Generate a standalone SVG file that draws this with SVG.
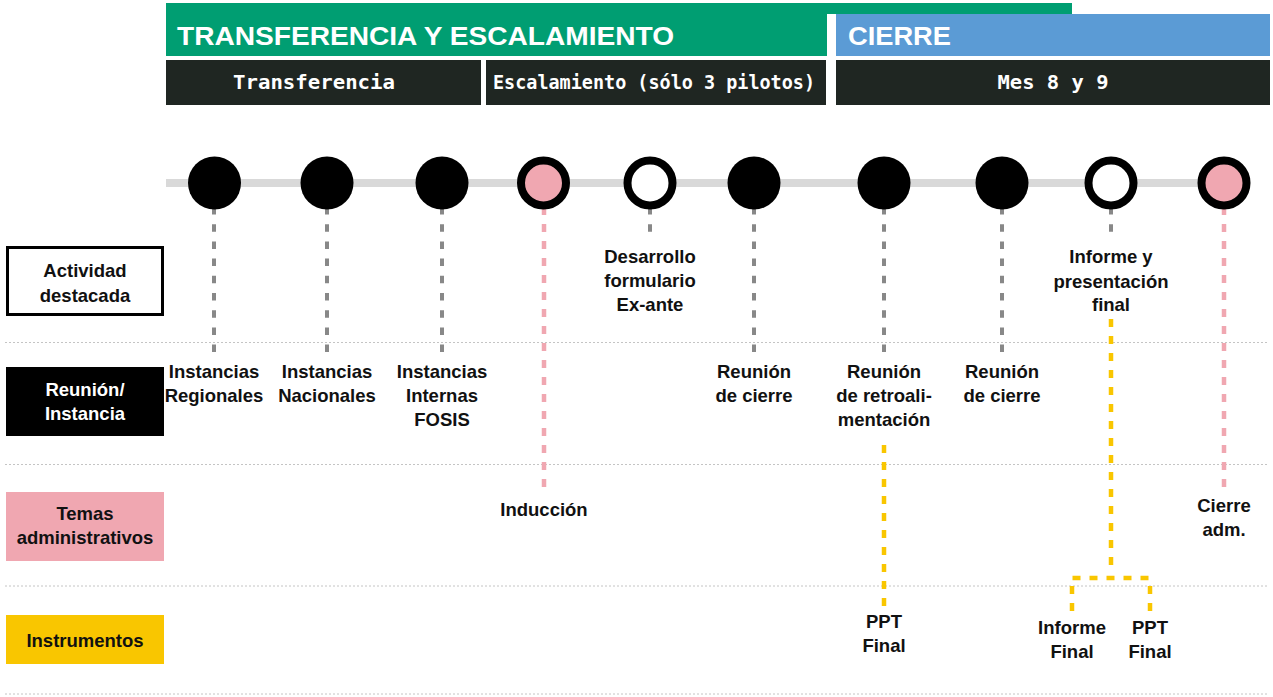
<svg xmlns="http://www.w3.org/2000/svg" width="1273" height="697" viewBox="0 0 1273 697">
<style>
.lbl{font-family:"Liberation Sans",Arial,sans-serif;font-weight:bold;font-size:18.5px;fill:#111;text-anchor:middle}
.lblw{font-family:"Liberation Sans",Arial,sans-serif;font-weight:bold;font-size:18.5px;fill:#fff;text-anchor:middle}
.mono{font-family:"DejaVu Sans Mono","Liberation Mono",monospace;font-weight:bold;font-size:19px;fill:#fff;text-anchor:middle}
.title{font-family:"Liberation Sans",Arial,sans-serif;font-weight:bold;font-size:26px;fill:#fff}
.sep{stroke:#c4c4c4;stroke-width:1;stroke-dasharray:2 2;fill:none}
.dg{stroke:#888;stroke-width:4;stroke-dasharray:7.5 9.7;fill:none}
.dp{stroke:#f0a7b1;stroke-width:4.5;stroke-dasharray:8 9;fill:none}
.dy{stroke:#f9c600;stroke-width:4.5;stroke-dasharray:8 9;fill:none}
.dot{fill:#000}
.ring{stroke:#000;stroke-width:8}
</style>

<g id="header">
  <path d="M166 3 H1072 V14 H827 V56 H166 Z" fill="#009e72"/>
  <rect x="836" y="14" width="434" height="42" fill="#5b9bd5"/>
  <text class="title" x="177" y="45" textLength="497" lengthAdjust="spacingAndGlyphs">TRANSFERENCIA Y ESCALAMIENTO</text>
  <text class="title" x="848" y="45" textLength="103" lengthAdjust="spacingAndGlyphs">CIERRE</text>
  <rect x="166" y="60" width="315" height="45" fill="#1f2622"/>
  <rect x="486" y="60" width="340" height="45" fill="#1f2622"/>
  <rect x="836" y="60" width="434" height="45" fill="#1f2622"/>
  <text class="mono" x="314" y="89" textLength="162" lengthAdjust="spacingAndGlyphs">Transferencia</text>
  <text class="mono" x="654" y="89" font-size="17" textLength="322" lengthAdjust="spacingAndGlyphs">Escalamiento (sólo 3 pilotos)</text>
  <text class="mono" x="1053" y="89" textLength="111" lengthAdjust="spacingAndGlyphs">Mes 8 y 9</text>
</g>

<g id="separators">
  <line class="sep" x1="5" y1="342.5" x2="1268" y2="342.5"/>
  <line class="sep" x1="5" y1="464.5" x2="1268" y2="464.5"/>
  <line class="sep" x1="5" y1="586" x2="1268" y2="586"/>
  <line class="sep" x1="5" y1="694" x2="1268" y2="694"/>
</g>

<g id="legend">
  <g id="leg-actividad">
    <rect x="7.5" y="247.5" width="155" height="67" fill="#fff" stroke="#000" stroke-width="3"/>
    <text class="lbl" x="85" y="277">Actividad</text>
    <text class="lbl" x="85" y="302">destacada</text>
  </g>
  <g id="leg-reunion">
    <rect x="6" y="367" width="158" height="69" fill="#000"/>
    <text class="lblw" x="85" y="396">Reunión/</text>
    <text class="lblw" x="85" y="420">Instancia</text>
  </g>
  <g id="leg-temas">
    <rect x="6" y="492" width="158" height="69" fill="#f0a7b1"/>
    <text class="lbl" x="85" y="520">Temas</text>
    <text class="lbl" x="85" y="544">administrativos</text>
  </g>
  <g id="leg-instrumentos">
    <rect x="6" y="615" width="158" height="49" fill="#f9c600"/>
    <text class="lbl" x="85" y="647">Instrumentos</text>
  </g>
</g>

<g id="connectors">
  <line x1="166" y1="183" x2="1224" y2="183" stroke="#d9d9d9" stroke-width="8"/>
  <line class="dg" x1="214" y1="207" x2="214" y2="352"/>
  <line class="dg" x1="327" y1="207" x2="327" y2="352"/>
  <line class="dg" x1="442" y1="207" x2="442" y2="352"/>
  <line class="dp" x1="544" y1="207" x2="544" y2="487"/>
  <line class="dg" x1="650" y1="207" x2="650" y2="241"/>
  <line class="dg" x1="754" y1="207" x2="754" y2="352"/>
  <line class="dg" x1="884" y1="207" x2="884" y2="352"/>
  <line class="dg" x1="1002" y1="207" x2="1002" y2="352"/>
  <line class="dg" x1="1111" y1="207" x2="1111" y2="241"/>
  <line class="dp" x1="1224" y1="207" x2="1224" y2="487"/>
  <line class="dy" x1="884" y1="445" x2="884" y2="606"/>
  <line class="dy" x1="1111" y1="319" x2="1111" y2="567"/>
  <line class="dy" x1="1072.5" y1="578" x2="1150" y2="578"/>
  <line class="dy" x1="1072" y1="586" x2="1072" y2="612"/>
  <line class="dy" x1="1150" y1="586" x2="1150" y2="612"/>
</g>

<g id="n1"><circle class="dot" cx="214.5" cy="183" r="26.5"/>
  <text class="lbl" x="214" y="378">Instancias</text><text class="lbl" x="214" y="402">Regionales</text></g>
<g id="n2"><circle class="dot" cx="327" cy="183" r="26.5"/>
  <text class="lbl" x="327" y="378">Instancias</text><text class="lbl" x="327" y="402">Nacionales</text></g>
<g id="n3"><circle class="dot" cx="442" cy="183" r="26.5"/>
  <text class="lbl" x="442" y="378">Instancias</text><text class="lbl" x="442" y="402">Internas</text><text class="lbl" x="442" y="426">FOSIS</text></g>
<g id="n4"><circle class="ring" cx="543.5" cy="183" r="22.5" fill="#f0a7b1"/>
  <text class="lbl" x="544" y="516">Inducción</text></g>
<g id="n5"><circle class="ring" cx="650" cy="183" r="22.5" fill="#fff"/>
  <text class="lbl" x="650" y="263">Desarrollo</text><text class="lbl" x="650" y="287">formulario</text><text class="lbl" x="650" y="311">Ex-ante</text></g>
<g id="n6"><circle class="dot" cx="754" cy="183" r="26.5"/>
  <text class="lbl" x="754" y="378">Reunión</text><text class="lbl" x="754" y="402">de cierre</text></g>
<g id="n7"><circle class="dot" cx="884" cy="183" r="26.5"/>
  <text class="lbl" x="884" y="378">Reunión</text><text class="lbl" x="884" y="402">de retroali-</text><text class="lbl" x="884" y="426">mentación</text>
  <text class="lbl" x="884" y="628">PPT</text><text class="lbl" x="884" y="652">Final</text></g>
<g id="n8"><circle class="dot" cx="1002" cy="183" r="26.5"/>
  <text class="lbl" x="1002" y="378">Reunión</text><text class="lbl" x="1002" y="402">de cierre</text></g>
<g id="n9"><circle class="ring" cx="1111" cy="183" r="22.5" fill="#fff"/>
  <text class="lbl" x="1111" y="263">Informe y</text><text class="lbl" x="1111" y="288">presentación</text><text class="lbl" x="1111" y="311">final</text>
  <text class="lbl" x="1072" y="634">Informe</text><text class="lbl" x="1072" y="658">Final</text>
  <text class="lbl" x="1150" y="634">PPT</text><text class="lbl" x="1150" y="658">Final</text></g>
<g id="n10"><circle class="ring" cx="1224" cy="183" r="22.5" fill="#f0a7b1"/>
  <text class="lbl" x="1224" y="512">Cierre</text><text class="lbl" x="1224" y="536">adm.</text></g>
</svg>
